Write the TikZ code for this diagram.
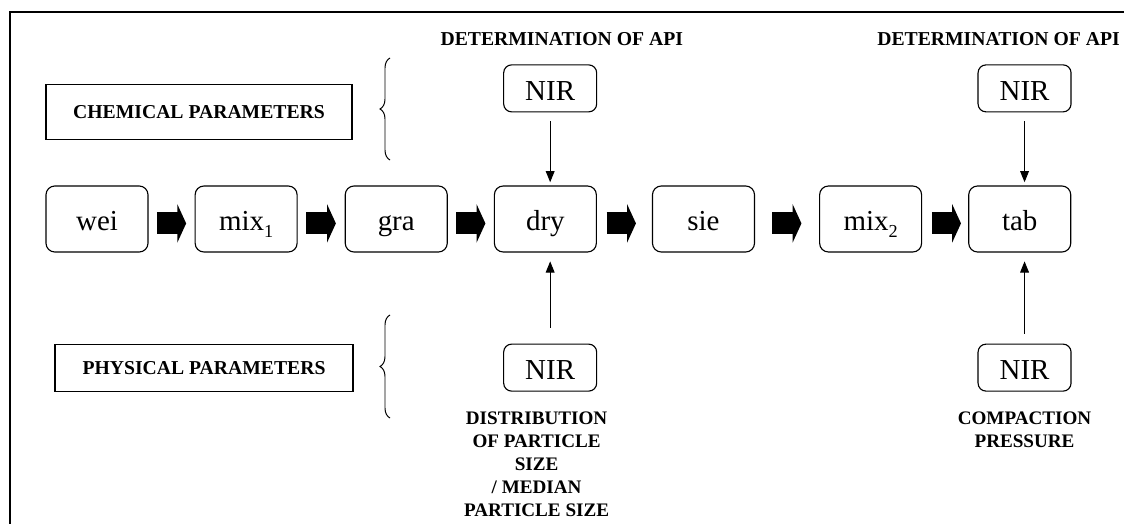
\documentclass[tikz,border=0pt]{standalone}
\usepackage{fontspec}
\setmainfont{Liberation Serif}
\usetikzlibrary{positioning, arrows.meta, decorations.pathreplacing}

\newcommand{\lowidx}[1]{\raisebox{-5.5pt}{\fontsize{13pt}{13pt}\selectfont #1}}

\begin{document}
\begin{tikzpicture}[
    node distance=1.15cm,
    >={Triangle[length=0.28cm, width=0.22cm]},
    % Styles
    base/.style={rectangle, draw, thick, text centered, inner sep=0pt},
    process/.style={base, rounded corners=0.22cm, minimum width=2.55cm, minimum height=1.65cm, text height=0.65cm, text depth=0.1cm, font=\fontsize{20.6pt}{24pt}\selectfont},
    nir/.style={base, rounded corners=0.2cm, minimum width=2.325cm, minimum height=1.175cm, text height=0.65cm, text depth=0.05cm, font=\fontsize{20.6pt}{24pt}\selectfont},
    parambox/.style={base, minimum height=1.175cm, font=\fontsize{14pt}{16.3pt}\selectfont\bfseries},
    measure/.style={align=center, inner sep=0pt, font=\fontsize{13.6pt}{16.3pt}\selectfont\bfseries},
    apihead/.style={measure, font=\fontsize{14pt}{16.3pt}\selectfont\bfseries},
    flowarrow/.style={line width=0.55cm, -{Triangle[length=0.22cm, width=0.95cm]}},
    probe/.style={->, line width=0.7pt},
    bracket/.style={decorate, decoration={brace, amplitude=0.25cm}, line width=0.7pt}
]
    \useasboundingbox (0,0) rectangle (28.1,-13.1);

    % --- Frame ---
    \draw [line width=0.9pt] (0.25,-13.1) -- (0.25,-0.3) -- (28.1,-0.3);

    % --- Process chain ---
    \node [process] (wei) at (2.425,-5.475) {wei};
    \node [process, right=1.15cm of wei] (mix1) {mix\lowidx{1}};
    \node [process, right=1.175cm of mix1] (gra) {gra};
    \node [process, right=1.15cm of gra] (dry) {dry};
    \node [process, right=1.375cm of dry] (sie) {sie};
    \node [process, right=1.6cm of sie] (mix2) {mix\lowidx{2}};
    \node [process, right=1.15cm of mix2] (tab) {tab};

    \draw [flowarrow, shorten <=0.21cm, shorten >=0.21cm] ([yshift=-0.11cm]wei.east) -- ([yshift=-0.11cm]mix1.west);
    \draw [flowarrow, shorten <=0.22cm, shorten >=0.22cm] ([yshift=-0.11cm]mix1.east) -- ([yshift=-0.11cm]gra.west);
    \draw [flowarrow, shorten <=0.21cm, shorten >=0.21cm] ([yshift=-0.11cm]gra.east) -- ([yshift=-0.11cm]dry.west);
    \draw [flowarrow, shorten <=0.24cm, shorten >=0.4cm] ([yshift=-0.11cm]dry.east) -- ([yshift=-0.11cm]sie.west);
    \draw [flowarrow, shorten <=0.43cm, shorten >=0.44cm] ([yshift=-0.11cm]sie.east) -- ([yshift=-0.11cm]mix2.west);
    \draw [flowarrow, shorten <=0.24cm, shorten >=0.18cm] ([yshift=-0.11cm]mix2.east) -- ([yshift=-0.11cm]tab.west);

    % --- Parameter groups ---
    \node [parambox, minimum width=7.65cm, minimum height=1.375cm, above=1.125cm of wei.north west, anchor=south west] (chem) {CHEMICAL PARAMETERS};
    \node [parambox, minimum width=7.45cm, below=2.275cm of wei.south west, anchor=north west, xshift=0.225cm] (phys) {PHYSICAL PARAMETERS};

    \coordinate (chemlow) at (9.75,-4.0);
    \coordinate (chemhigh) at (9.75,-1.45);
    \coordinate (physlow) at (9.75,-10.45);
    \coordinate (physhigh) at (9.75,-7.875);
    \draw [bracket] (chemlow) -- (chemhigh);
    \draw [bracket] (physlow) -- (physhigh);

    % --- NIR probes ---
    \node [nir, above=1.825cm of dry, xshift=0.12cm] (nirA) {NIR};
    \node [nir, above=1.825cm of tab, xshift=0.12cm] (nirB) {NIR};
    \node [nir, below=2.275cm of dry, xshift=0.12cm] (nirC) {NIR};
    \node [nir, below=2.275cm of tab, xshift=0.12cm] (nirD) {NIR};

    \node [apihead, above=0.46cm of nirA, xshift=0.29cm] (apiA) {DETERMINATION OF API};
    \node [apihead, above=0.46cm of nirB, xshift=-0.65cm] (apiB) {DETERMINATION OF API};
    \node [measure, below=0.5cm of nirC, xshift=-0.34cm] (sizeA) {DISTRIBUTION\\OF PARTICLE\\SIZE\\/ MEDIAN\\PARTICLE SIZE};
    \node [measure, below=0.5cm of nirD] (pressB) {COMPACTION\\PRESSURE};

    \draw [probe, shorten <=0.22cm, shorten >=0.08cm] (nirA.south) -- (nirA.south |- dry.north);
    \draw [probe, shorten <=0.22cm, shorten >=0.08cm] (nirB.south) -- (nirB.south |- tab.north);
    \draw [probe, shorten <=0.4cm, shorten >=0.22cm] (nirC.north) -- (nirC.north |- dry.south);
    \draw [probe, shorten <=0.25cm, shorten >=0.22cm] (nirD.north) -- (nirD.north |- tab.south);

\end{tikzpicture}
\end{document}
